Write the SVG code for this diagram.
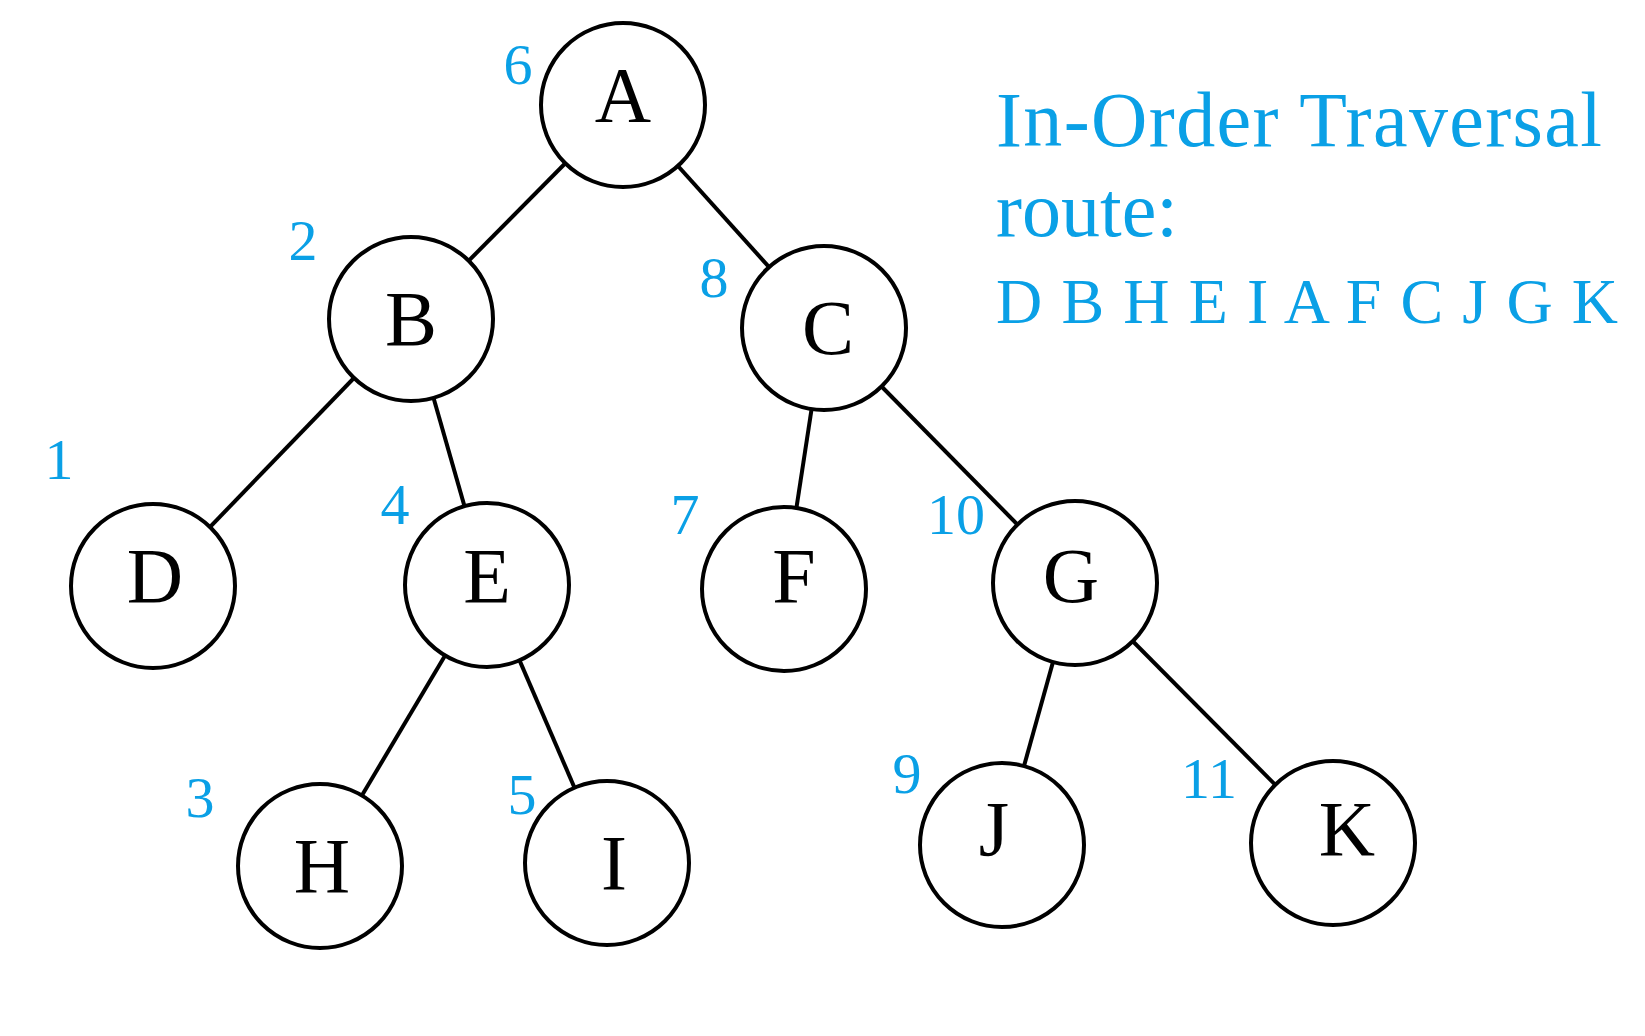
<svg xmlns="http://www.w3.org/2000/svg" width="1645" height="1036" viewBox="0 0 1645 1036">
<style>
.n{fill:#fff;stroke:#000;stroke-width:4}
.l{font-family:"Liberation Serif",serif;font-size:78px;text-anchor:middle;fill:#000}
.o{font-family:"Liberation Serif",serif;font-size:58px;text-anchor:middle;fill:#0aa0e6}
.t{font-family:"Liberation Serif",serif;fill:#0aa0e6}
#edges line{stroke:#000;stroke-width:4}
</style>
<rect width="1645" height="1036" fill="#fff"/>
<g transform="translate(-6,-4)">
<g id="edges">
<line x1="629" y1="109" x2="417" y2="323"/>
<line x1="629" y1="109" x2="830" y2="332"/>
<line x1="417" y1="323" x2="159" y2="590"/>
<line x1="417" y1="323" x2="493" y2="589"/>
<line x1="830" y1="332" x2="790" y2="593"/>
<line x1="830" y1="332" x2="1081" y2="587"/>
<line x1="493" y1="589" x2="326" y2="870"/>
<line x1="493" y1="589" x2="613" y2="867"/>
<line x1="1081" y1="587" x2="1008" y2="849"/>
<line x1="1081" y1="587" x2="1339" y2="847"/>
</g>
<g id="A"><circle class="n" cx="629" cy="109" r="82"/><text class="l" x="629" y="125">A</text><text class="o" x="524" y="88">6</text></g>
<g id="B"><circle class="n" cx="417" cy="323" r="82"/><text class="l" x="417" y="349">B</text><text class="o" x="309" y="264">2</text></g>
<g id="C"><circle class="n" cx="830" cy="332" r="82"/><text class="l" x="834" y="358">C</text><text class="o" x="720" y="301">8</text></g>
<g id="D"><circle class="n" cx="159" cy="590" r="82"/><text class="l" x="161" y="606">D</text><text class="o" x="65" y="483">1</text></g>
<g id="E"><circle class="n" cx="493" cy="589" r="82"/><text class="l" x="493" y="606">E</text><text class="o" x="401" y="528">4</text></g>
<g id="F"><circle class="n" cx="790" cy="593" r="82"/><text class="l" x="800" y="606">F</text><text class="o" x="691" y="538">7</text></g>
<g id="G"><circle class="n" cx="1081" cy="587" r="82"/><text class="l" x="1077" y="606">G</text><text class="o" x="962" y="538">10</text></g>
<g id="H"><circle class="n" cx="326" cy="870" r="82"/><text class="l" x="328" y="896">H</text><text class="o" x="206" y="821">3</text></g>
<g id="I"><circle class="n" cx="613" cy="867" r="82"/><text class="l" x="620" y="893">I</text><text class="o" x="528" y="818">5</text></g>
<g id="J"><circle class="n" cx="1008" cy="849" r="82"/><text class="l" x="1000" y="859">J</text><text class="o" x="913" y="797">9</text></g>
<g id="K"><circle class="n" cx="1339" cy="847" r="82"/><text class="l" x="1353" y="859">K</text><text class="o" x="1215" y="802">11</text></g>
</g>
<g id="title">
<text class="t" x="996" y="146" font-size="78" textLength="606">In-Order Traversal</text>
<text class="t" x="996" y="236" font-size="78">route:</text>
<text class="t" x="996" y="323" font-size="64" textLength="622">D B H E I A F C J G K</text>
</g>
</svg>
